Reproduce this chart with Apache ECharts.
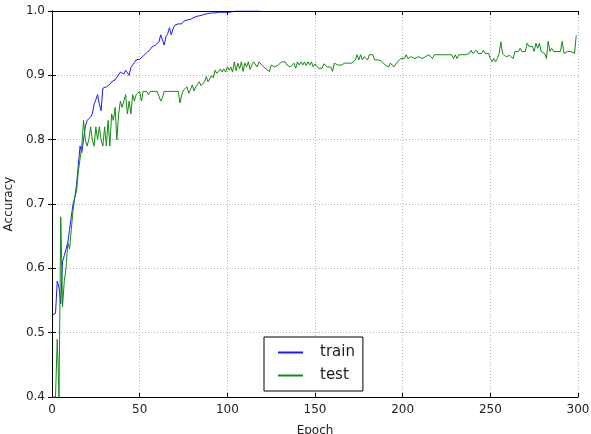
<!DOCTYPE html>
<html lang="en">
<head>
    <meta charset="UTF-8">
    <title>Accuracy</title>
    <style>
        html, body { margin: 0; padding: 0; background: #fff; }
        #main { width: 591px; height: 434px; }
    </style>
</head>
<body>
    <div id="main"></div>
<script type="text/javascript" src="https://cdn.jsdelivr.net/npm/echarts@6/dist/echarts.min.js"></script>
<script type="text/javascript">
    // accuracy per epoch, index = epoch
    var trainAcc = [
        0.527, 0.527, 0.53, 0.58, 0.57, 0.545, 0.61, 0.62, 0.63, 0.64,
        0.66, 0.68, 0.70, 0.71, 0.73, 0.76, 0.79, 0.78, 0.80, 0.82,
        0.83, 0.83, 0.835, 0.84, 0.855, 0.862, 0.87, 0.855, 0.845, 0.88,
        0.878, 0.882, 0.885, 0.886, 0.89, 0.89, 0.893, 0.897, 0.90, 0.905,
        0.906, 0.902, 0.908, 0.905, 0.90, 0.912, 0.915, 0.92, 0.924, 0.921,
        0.925, 0.928, 0.93, 0.932, 0.935, 0.938, 0.94, 0.944, 0.943, 0.947,
        0.95, 0.952, 0.963, 0.955, 0.947, 0.96, 0.965, 0.974, 0.963, 0.972,
        0.978, 0.977, 0.98, 0.982, 0.98, 0.984, 0.985, 0.986, 0.988, 0.987,
        0.99, 0.99, 0.991, 0.992, 0.993, 0.993, 0.994, 0.995, 0.994, 0.996,
        0.996, 0.997, 0.997, 0.997, 0.997, 0.998, 0.998, 0.998, 0.997, 0.998,
        0.999, 0.998, 0.999, 0.999, 0.999, 1.0, 1.0, 1.0, 1.0, 1.0,
        1.0, 1.0, 1.0, 1.0, 1.0, 1.0, 1.0, 1.0, 1.0, 1.0
    ];
    var testAcc = [
        0.40, 0.40, 0.40, 0.49, 0.40, 0.68, 0.54, 0.58, 0.60, 0.64,
        0.63, 0.66, 0.69, 0.71, 0.72, 0.75, 0.77, 0.79, 0.83, 0.80,
        0.79, 0.80, 0.82, 0.80, 0.79, 0.82, 0.80, 0.82, 0.80, 0.79,
        0.82, 0.79, 0.83, 0.79, 0.84, 0.83, 0.85, 0.80, 0.84, 0.86,
        0.85, 0.86, 0.87, 0.84, 0.86, 0.84, 0.87, 0.86, 0.87, 0.87,
        0.875, 0.86, 0.875, 0.875, 0.875, 0.87, 0.875, 0.875, 0.875, 0.875,
        0.875, 0.875, 0.86, 0.865, 0.875, 0.875, 0.875, 0.875, 0.875, 0.875,
        0.875, 0.875, 0.875, 0.857, 0.87, 0.877, 0.875, 0.882, 0.872, 0.878,
        0.885, 0.876, 0.882, 0.88, 0.89, 0.884, 0.887, 0.89, 0.898, 0.89,
        0.893, 0.9, 0.896, 0.908, 0.903, 0.9, 0.91, 0.905, 0.91, 0.905,
        0.913, 0.908, 0.913, 0.905, 0.921, 0.907, 0.919, 0.91, 0.921, 0.906,
        0.919, 0.913, 0.921, 0.909, 0.916, 0.921, 0.918, 0.913, 0.921, 0.919,
        0.915, 0.913, 0.91, 0.913, 0.906, 0.916, 0.919, 0.913, 0.911, 0.916,
        0.913, 0.921, 0.919, 0.921, 0.916, 0.919, 0.913, 0.916, 0.919, 0.911,
        0.921, 0.916, 0.921, 0.916, 0.921, 0.915, 0.921, 0.916, 0.921, 0.913,
        0.918, 0.916, 0.911, 0.913, 0.911, 0.918, 0.916, 0.913, 0.911, 0.913,
        0.906, 0.919, 0.921, 0.916, 0.919, 0.916, 0.919, 0.919, 0.916, 0.919,
        0.916, 0.919, 0.919, 0.924, 0.932, 0.924, 0.932, 0.924, 0.929, 0.926,
        0.924, 0.932, 0.929, 0.932, 0.924, 0.926, 0.924, 0.924, 0.922, 0.919,
        0.916, 0.913, 0.913, 0.919, 0.921, 0.913, 0.916, 0.921, 0.924, 0.926,
        0.924, 0.926, 0.932, 0.926, 0.924, 0.929, 0.932, 0.926, 0.926, 0.929,
        0.932, 0.926, 0.929, 0.929, 0.932, 0.932, 0.932, 0.926, 0.932, 0.932,
        0.932, 0.932, 0.932, 0.932, 0.932, 0.932, 0.932, 0.932, 0.932, 0.926,
        0.932, 0.926, 0.932, 0.932, 0.932, 0.932, 0.932, 0.932, 0.934, 0.939,
        0.934, 0.934, 0.939, 0.934, 0.934, 0.934, 0.939, 0.934, 0.934, 0.934,
        0.926, 0.921, 0.926, 0.921, 0.926, 0.934, 0.952, 0.934, 0.931, 0.929,
        0.932, 0.931, 0.934, 0.926, 0.937, 0.937, 0.937, 0.942, 0.937, 0.934,
        0.937, 0.95, 0.945, 0.947, 0.945, 0.937, 0.95, 0.942, 0.95, 0.937,
        0.937, 0.934, 0.926, 0.953, 0.937, 0.942, 0.937, 0.939, 0.937, 0.939,
        0.937, 0.953, 0.934, 0.937, 0.937, 0.939, 0.937, 0.934, 0.934, 0.962
    ];
    var seriesNames = ['train', 'test'];
    var xName = 'Epoch';
    var yName = 'Accuracy';

    function toPairs(arr) {
        var out = [];
        for (var i = 0; i < arr.length; i++) out.push([i, arr[i]]);
        return out;
    }

    var font = 'DejaVu Sans';
    var tick = { show: true, inside: true, length: 4, lineStyle: { color: '#000' } };
    var frameLine = { show: true, lineStyle: { color: '#000', width: 1 } };
    var grid = { show: true, lineStyle: { color: '#b5b5b5', type: [1, 2], width: 1 } };

    var myChart = echarts.init(document.getElementById('main'));
    var option = {
        animation: false,
        backgroundColor: '#fff',
        grid: { left: 52, right: 13, top: 11, bottom: 37, containLabel: false, outerBoundsMode: 'none' },
        legend: {
            orient: 'vertical',
            left: 264,
            top: 337,
            padding: [8, 8, 8, 13],
            itemWidth: 25,
            itemHeight: 14,
            itemGap: 8,
            borderColor: '#000',
            borderWidth: 1,
            backgroundColor: '#fff',
            itemStyle: { opacity: 0 },
            textStyle: { fontFamily: font, fontSize: 15, color: '#222', padding: [0, 0, 0, 12] },
            data: seriesNames
        },
        xAxis: [{
            type: 'value', min: 0, max: 300, interval: 50,
            name: xName, nameLocation: 'middle', nameGap: 28,
            nameTextStyle: { fontFamily: font, fontSize: 12, color: '#222' },
            axisLine: frameLine, axisTick: tick, splitLine: grid,
            axisLabel: { fontFamily: font, fontSize: 12, color: '#222', margin: 7 }
        }, {
            type: 'value', min: 0, max: 300, interval: 50, position: 'top', z: 10,
            axisLine: frameLine, axisTick: tick, splitLine: { show: false },
            axisLabel: { show: false }
        }],
        yAxis: [{
            type: 'value', min: 0.4, max: 1.0, interval: 0.1,
            name: yName, nameLocation: 'middle', nameGap: 37,
            nameTextStyle: { fontFamily: font, fontSize: 12, color: '#222' },
            axisLine: frameLine, axisTick: tick, splitLine: grid,
            axisLabel: {
                fontFamily: font, fontSize: 12, color: '#222', margin: 7,
                formatter: function (v) { return v.toFixed(1); }
            }
        }, {
            type: 'value', min: 0.4, max: 1.0, interval: 0.1, position: 'right', z: 10,
            axisLine: frameLine, axisTick: tick, splitLine: { show: false },
            axisLabel: { show: false }
        }],
        series: [{
            name: seriesNames[0], type: 'line', symbol: 'none',
            xAxisIndex: 0, yAxisIndex: 0,
            lineStyle: { color: '#1a1aff', width: 1 }, itemStyle: { color: '#1a1aff' },
            data: toPairs(trainAcc)
        }, {
            name: seriesNames[1], type: 'line', symbol: 'none',
            xAxisIndex: 0, yAxisIndex: 0,
            lineStyle: { color: '#138a13', width: 1 }, itemStyle: { color: '#138a13' },
            data: toPairs(testAcc)
        }]
    };
    myChart.setOption(option);
</script>
</body>
</html>
